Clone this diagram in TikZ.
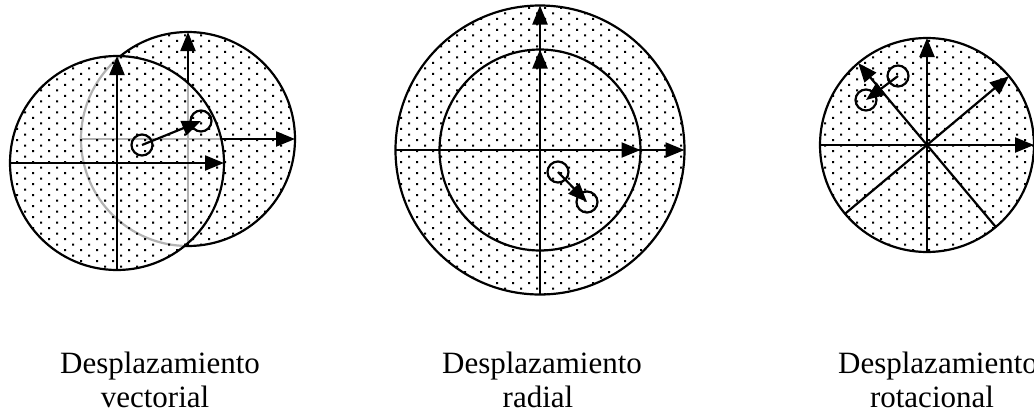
\documentclass[tikz,border=0pt]{standalone}
\usepackage{fontspec}
\setmainfont{Liberation Serif}
\usetikzlibrary{patterns,arrows.meta}
\pgfdeclarepatternformonly{mydots}{\pgfqpoint{-1pt}{-1pt}}{\pgfqpoint{17pt}{12pt}}{\pgfqpoint{16pt}{11pt}}{%
  \pgfpathrectangle{\pgfqpoint{0pt}{0pt}}{\pgfqpoint{2pt}{2pt}}%
  \pgfpathrectangle{\pgfqpoint{8pt}{5.5pt}}{\pgfqpoint{2pt}{2pt}}%
  \pgfusepath{fill}}
\tikzset{
  disc/.style={circle, draw, line width=2.2pt, inner sep=0pt, outer sep=0pt, minimum size=#1},
  dotted fill/.style={preaction={fill=white}, pattern=mydots},
  axisarrow/.style={line width=2.2pt, -{Triangle[length=19pt,width=15pt]}},
  axisline/.style={line width=2.2pt},
  marker/.style={circle, draw, line width=2.2pt, inner sep=0pt, outer sep=0pt, minimum size=21pt},
  caption/.style={anchor=base, inner sep=0pt, font=\fontsize{31}{34}\selectfont},
}
\begin{document}
\begin{tikzpicture}[x=1pt,y=-1pt]
\useasboundingbox (0,0) rectangle (1034,416);

% ---------- Panel 1: vectorial ----------
\node[disc=214pt, dotted fill] (back) at (188,139) {};
\draw[axisarrow] (back.south) -- (back.north);
\draw[axisarrow] (back.west) -- (back.east);
\node[disc=214pt, draw=none, preaction={fill=white, fill opacity=0.7}, pattern=mydots] (frontfill) at (117,163) {};
\node[disc=214pt] (front) at (117,163) {};
\draw[axisarrow] (front.south) -- (front.north);
\draw[axisarrow] (front.west) -- (front.east);
\node[marker] (v1) at (142,145) {};
\node[marker] (v2) at (201,121) {};
\draw[axisarrow] (v1.center) -- (v2.center);

% ---------- Panel 2: radial ----------
\node[disc=289pt, dotted fill] (outer) at (540,150) {};
\node[disc=201pt] (inner) at (540,150) {};
\draw[axisline] (outer.south) -- (outer.center);
\draw[axisline] (outer.west) -- (outer.center);
\draw[axisarrow] (outer.center) -- (outer.north);
\draw[axisarrow] (outer.center) -- (inner.north);
\draw[axisarrow] (outer.center) -- (outer.east);
\draw[axisarrow] (outer.center) -- (inner.east);
\node[marker] (r1) at (558,172) {};
\node[marker] (r2) at (587,202) {};
\draw[axisarrow] (r1.center) -- (r2.center);

% ---------- Panel 3: rotacional ----------
\node[disc=214pt, dotted fill] (rot) at (927,145) {};
\draw[axisarrow] (rot.south) -- (rot.north);
\draw[axisarrow] (rot.west) -- (rot.east);
\draw[axisarrow] (rot.220) -- (rot.40);
\draw[axisarrow] (rot.310) -- (rot.130);
\node[marker] (t1) at (898,76) {};
\node[marker] (t2) at (866,100) {};
\draw[axisarrow] (t1.center) -- (t2.center);

% ---------- Captions ----------
\node[caption] (c1a) at (160,373) {Desplazamiento};
\node[caption] (c1b) at (155,407) {vectorial};
\node[caption] (c2a) at (542,373) {Desplazamiento};
\node[caption] (c2b) at (538,407) {radial};
\node[caption] (c3a) at (938,373) {Desplazamiento};
\node[caption] (c3b) at (932,407) {rotacional};
\end{tikzpicture}
\end{document}
